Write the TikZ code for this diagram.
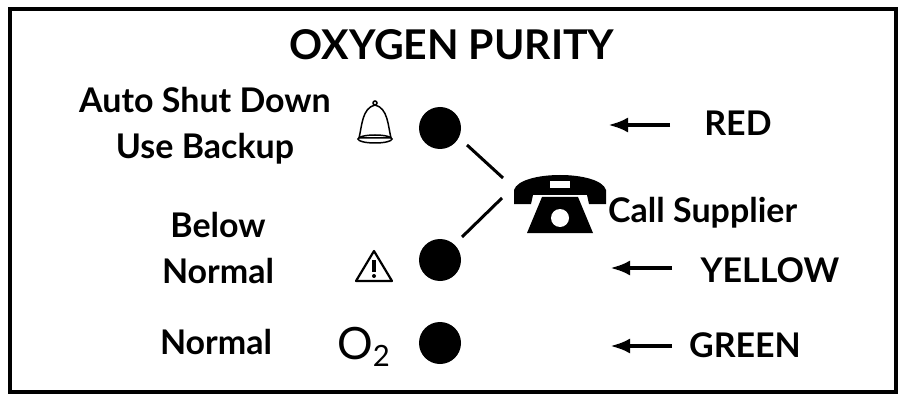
\documentclass[tikz,border=0pt]{standalone}
\usepackage{fontspec}
\setmainfont{Lato}
\usetikzlibrary{arrows.meta}
\begin{document}
\begin{tikzpicture}[x=0.03cm,y=-0.03cm,
  lbl/.style={font=\fontsize{29}{39}\selectfont\bfseries,align=center,inner sep=0},
  dot/.style={circle,fill=black,minimum size=42*0.03cm,inner sep=0},
  arr/.style={-{Latex[length=20*0.03cm,width=15*0.03cm]},line width=4*0.03cm}]
\useasboundingbox (0,0) rectangle (906,401);
\draw[line width=4*0.03cm] (10,9) rectangle (896,392);
\node[lbl,font=\fontsize{35}{38}\selectfont\bfseries] (title) at (452,45) {OXYGEN PURITY};
\node[lbl] (t1) at (205,126) {Auto Shut Down\\Use Backup};
\node[lbl] (t2) at (218,248) {Below\\Normal};
\node[lbl] (t3) at (216,342) {Normal};
\node[dot] (d1) at (440,128) {};
\node[dot] (d2) at (440,260) {};
\node[dot] (d3) at (440,343) {};
% bell
\draw[line width=1.5*0.03cm] (359,138) .. controls (362,126) and (362,108) .. (375,105) .. controls (388,108) and (388,126) .. (391,138) -- cycle;
\draw[line width=1.5*0.03cm] (375,103) circle (2);
\draw[line width=1.5*0.03cm] (375,139) ellipse (17 and 4);
% warning
\draw[line width=2.2*0.03cm,line join=round] (374,251) -- (392,281) -- (356,281) -- cycle;
\fill (372,260) rectangle (376,272);
\fill (374,276) circle (2);
\node[inner sep=0,font=\fontsize{38}{40}\selectfont,anchor=west] (o2) at (337,347) {O\raisebox{-0.3ex}{\fontsize{25}{26}\selectfont 2}};
% phone
\draw[line width=3*0.03cm] (467,145) -- (503,178);
\draw[line width=3*0.03cm] (462,237) -- (502,198);
\fill (514,204) -- (514,190) .. controls (520,170) and (600,170) .. (606,190) -- (606,204) -- (589,204) -- (587,195) -- (533,195) -- (531,204) -- cycle;
\fill[white] (550,181) rectangle (570,188);
\fill (542,197) -- (578,197) -- (593,233) -- (527,233) -- cycle;
\fill[white] (560,218) circle (9);
\node[lbl,anchor=west] (call) at (608,213) {Call Supplier};
\coordinate (a1) at (670,125); \coordinate (b1) at (608,125);
\coordinate (a2) at (672,268); \coordinate (b2) at (610,268);
\coordinate (a3) at (672,346); \coordinate (b3) at (610,346);
\draw[arr] (a1) -- (b1);
\draw[arr] (a2) -- (b2);
\draw[arr] (a3) -- (b3);
\node[lbl] (red) at (738,123) {RED};
\node[lbl] (yel) at (770,270) {YELLOW};
\node[lbl] (grn) at (745,345) {GREEN};
\end{tikzpicture}
\end{document}
